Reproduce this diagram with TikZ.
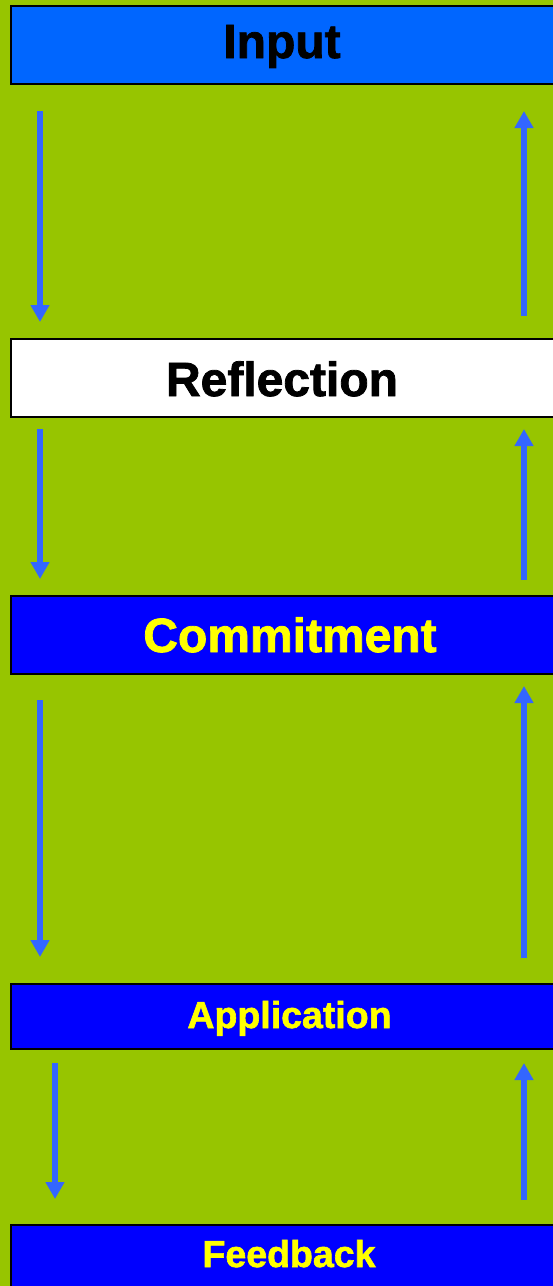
\documentclass[tikz,border=0pt]{standalone}
\usepackage{fontspec}
\setmainfont{Liberation Sans}
\newfontfamily\heavyfont[FakeBold=1.6]{Liberation Sans Bold}
\usetikzlibrary{arrows.meta}
\definecolor{bggreen}{RGB}{151,197,0}
\definecolor{inblue}{RGB}{0,102,255}
\definecolor{deepblue}{RGB}{0,0,255}
\definecolor{arrblue}{RGB}{51,102,255}
\definecolor{txtyellow}{RGB}{255,255,0}
\tikzset{
  box/.style={draw=black, line width=2pt, rectangle, inner sep=0pt, anchor=north west, minimum width=546pt},
  biglbl/.style={anchor=base, inner sep=0pt, font=\heavyfont\fontsize{48}{48}\selectfont},
  smalllbl/.style={anchor=base, inner sep=0pt, font=\heavyfont\fontsize{37.5}{37.5}\selectfont},
  flow/.style={draw=arrblue, line width=6pt, -{Triangle[width=18pt,length=17pt]}}
}
\begin{document}
\begin{tikzpicture}[x=1pt,y=-1pt]
\useasboundingbox (0,0) rectangle (553,1286);
\fill[bggreen] (0,0) rectangle (553,1286);
\begin{scope}
\clip (0,0) rectangle (553,1286);
% boxes
\node[box, fill=inblue, minimum height=78pt] (input) at (10,5) {};
\node[box, fill=white, minimum height=78pt] (reflection) at (10,338) {};
\node[box, fill=deepblue, minimum height=78pt] (commitment) at (10,595) {};
\node[box, fill=deepblue, minimum height=65pt] (application) at (10,983) {};
\node[box, fill=deepblue, minimum height=80pt] (feedback) at (10,1224) {};
\end{scope}
% labels
\node[biglbl, text=black] (inputtxt) at (282,58) {Input};
\node[biglbl, text=black] (refltxt) at (282,396) {Reflection};
\node[biglbl, text=txtyellow] (committxt) at (290,652) {Commitment};
\node[smalllbl, text=txtyellow] (applytxt) at (289.5,1028) {Application};
\node[smalllbl, text=txtyellow] (feedtxt) at (289,1267) {Feedback};
% arrow endpoints
\coordinate (a1s) at (40,111); \coordinate (a1e) at (40,322);
\coordinate (b1s) at (524,316); \coordinate (b1e) at (524,111);
\coordinate (a2s) at (40,429); \coordinate (a2e) at (40,579);
\coordinate (b2s) at (524,580); \coordinate (b2e) at (524,429);
\coordinate (a3s) at (40,700); \coordinate (a3e) at (40,957);
\coordinate (b3s) at (524,958); \coordinate (b3e) at (524,686);
\coordinate (a4s) at (55,1063); \coordinate (a4e) at (55,1199);
\coordinate (b4s) at (524,1200); \coordinate (b4e) at (524,1063);
\draw[flow] (a1s) -- (a1e);
\draw[flow] (b1s) -- (b1e);
\draw[flow] (a2s) -- (a2e);
\draw[flow] (b2s) -- (b2e);
\draw[flow] (a3s) -- (a3e);
\draw[flow] (b3s) -- (b3e);
\draw[flow] (a4s) -- (a4e);
\draw[flow] (b4s) -- (b4e);
\end{tikzpicture}
\end{document}
